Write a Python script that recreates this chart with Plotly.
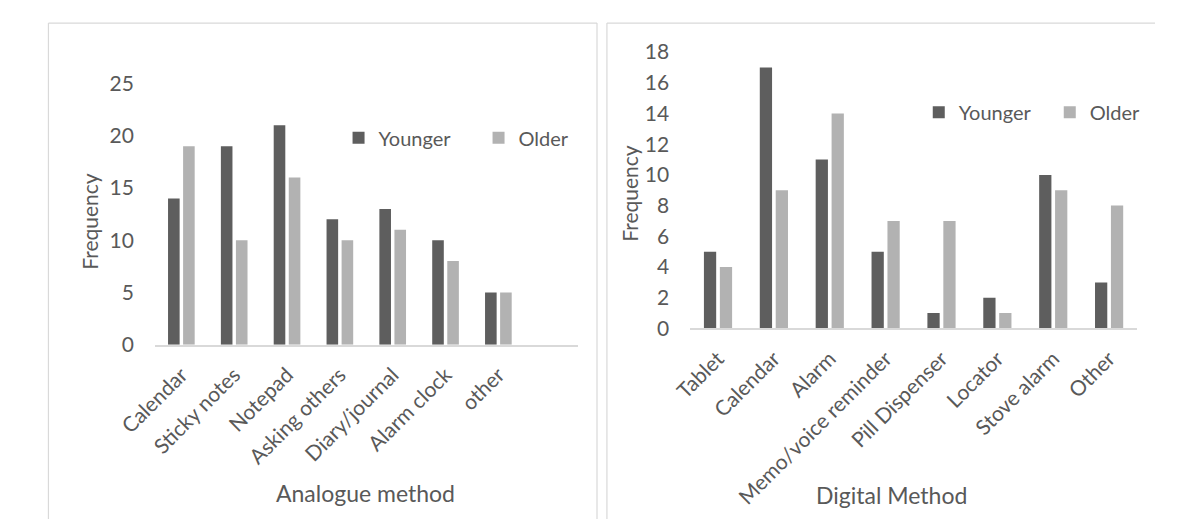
import plotly.graph_objects as go

# ---- data -------------------------------------------------------------
analogue_methods = ["Calendar", "Sticky notes", "Notepad", "Asking others",
                    "Diary/journal", "Alarm clock", "other"]
analogue_younger = [14, 19, 21, 12, 13, 10, 5]
analogue_older = [19, 10, 16, 10, 11, 8, 5]

digital_methods = ["Tablet", "Calendar", "Alarm", "Memo/voice reminder",
                   "Pill Dispenser", "Locator", "Stove alarm", "Other"]
digital_younger = [5, 17, 11, 5, 1, 2, 10, 3]
digital_older = [4, 9, 14, 7, 7, 1, 9, 8]

analogue_ticks = [0, 5, 10, 15, 20, 25]
digital_ticks = [0, 2, 4, 6, 8, 10, 12, 14, 16, 18]

# ---- style ------------------------------------------------------------
W, H = 1181, 530
FONT = "Lato"
TEXT = "#595959"
DARK = "#5e5e5e"
LIGHT = "#b2b2b2"
FRAME = "#d9d9d9"


def fx(px):
    return px / W


def fy(py):
    return 1 - py / H


fig = go.Figure()

fig.add_trace(go.Bar(x=analogue_methods, y=analogue_younger, name="Younger",
                     marker=dict(color=DARK, line=dict(width=0)),
                     xaxis="x", yaxis="y", legend="legend"))
fig.add_trace(go.Bar(x=analogue_methods, y=analogue_older, name="Older",
                     marker=dict(color=LIGHT, line=dict(width=0)),
                     xaxis="x", yaxis="y", legend="legend"))
fig.add_trace(go.Bar(x=digital_methods, y=digital_younger, name="Younger",
                     marker=dict(color=DARK, line=dict(width=0)),
                     xaxis="x2", yaxis="y2", legend="legend2"))
fig.add_trace(go.Bar(x=digital_methods, y=digital_older, name="Older",
                     marker=dict(color=LIGHT, line=dict(width=0)),
                     xaxis="x2", yaxis="y2", legend="legend2"))

tick_font = dict(family=FONT, size=21, color=TEXT)

xcommon = dict(type="category", range=[-0.5, 7.5], tickangle=-45,
               showline=True, linecolor=FRAME, linewidth=1.5,
               showgrid=False, zeroline=False, ticks="",
               tickfont=tick_font, ticklabelstandoff=8, fixedrange=True)
ycommon = dict(showline=False, showgrid=False, zeroline=False, ticks="",
               tickfont=tick_font, ticklabelstandoff=20, fixedrange=True)

legend_common = dict(orientation="h", font=dict(family=FONT, size=20, color=TEXT),
                     bgcolor="rgba(0,0,0,0)", xanchor="left", yanchor="middle",
                     entrywidthmode="pixels", tracegroupgap=0)

fig.update_layout(
    width=W, height=H,
    margin=dict(l=0, r=0, t=0, b=0),
    paper_bgcolor="white", plot_bgcolor="white",
    barmode="group", bargap=0.43, bargroupgap=0.23,
    font=dict(family=FONT, color=TEXT),
    xaxis=dict(xcommon, domain=[fx(122.7), fx(570)], anchor="y",
               categoryorder="array", categoryarray=analogue_methods),
    yaxis=dict(ycommon, domain=[fy(347), fy(73)], anchor="x",
               range=[0, 25], tickvals=analogue_ticks),
    xaxis2=dict(xcommon, domain=[fx(689), fx(1162)], anchor="y2",
                categoryorder="array", categoryarray=digital_methods),
    yaxis2=dict(ycommon, domain=[fy(330), fy(40)], anchor="x2",
                range=[0, 18], tickvals=digital_ticks),
    legend=dict(legend_common, x=fx(317), y=fy(130), entrywidth=95),
    legend2=dict(legend_common, x=fx(931), y=fy(103), entrywidth=86),
    showlegend=True,
)

# panel frames: each chart box runs off the bottom of the canvas,
# the right-hand box also runs off the right edge
frame_lines = [
    (10, 9.5, 590.5, 9.5),     # left box top
    (10, 9.5, 10, 530),        # left box left side
    (590.5, 9.5, 590.5, 530),  # left box right side
    (601, 9.5, 1181, 9.5),     # right box top
    (601, 9.5, 601, 530),      # right box left side
]
for x0, y0, x1, y1 in frame_lines:
    fig.add_shape(type="line", xref="paper", yref="paper",
                  x0=fx(x0), y0=fy(y0), x1=fx(x1), y1=fy(y1),
                  line=dict(color=FRAME, width=1.2), layer="below")

# axis titles
title_font = dict(family=FONT, size=23, color=TEXT)
ytitle_font = dict(family=FONT, size=21, color=TEXT)
fig.add_annotation(text="Frequency", xref="paper", yref="paper",
                   x=fx(54), y=fy(218), textangle=-90, showarrow=False,
                   font=ytitle_font, xanchor="center", yanchor="middle")
fig.add_annotation(text="Frequency", xref="paper", yref="paper",
                   x=fx(625), y=fy(188), textangle=-90, showarrow=False,
                   font=ytitle_font, xanchor="center", yanchor="middle")
fig.add_annotation(text="Analogue method", xref="paper", yref="paper",
                   x=fx(345), y=fy(503), showarrow=False,
                   font=title_font, xanchor="center", yanchor="middle")
fig.add_annotation(text="Digital Method", xref="paper", yref="paper",
                   x=fx(902), y=fy(505), showarrow=False,
                   font=title_font, xanchor="center", yanchor="middle")

fig.write_html("out.html")
